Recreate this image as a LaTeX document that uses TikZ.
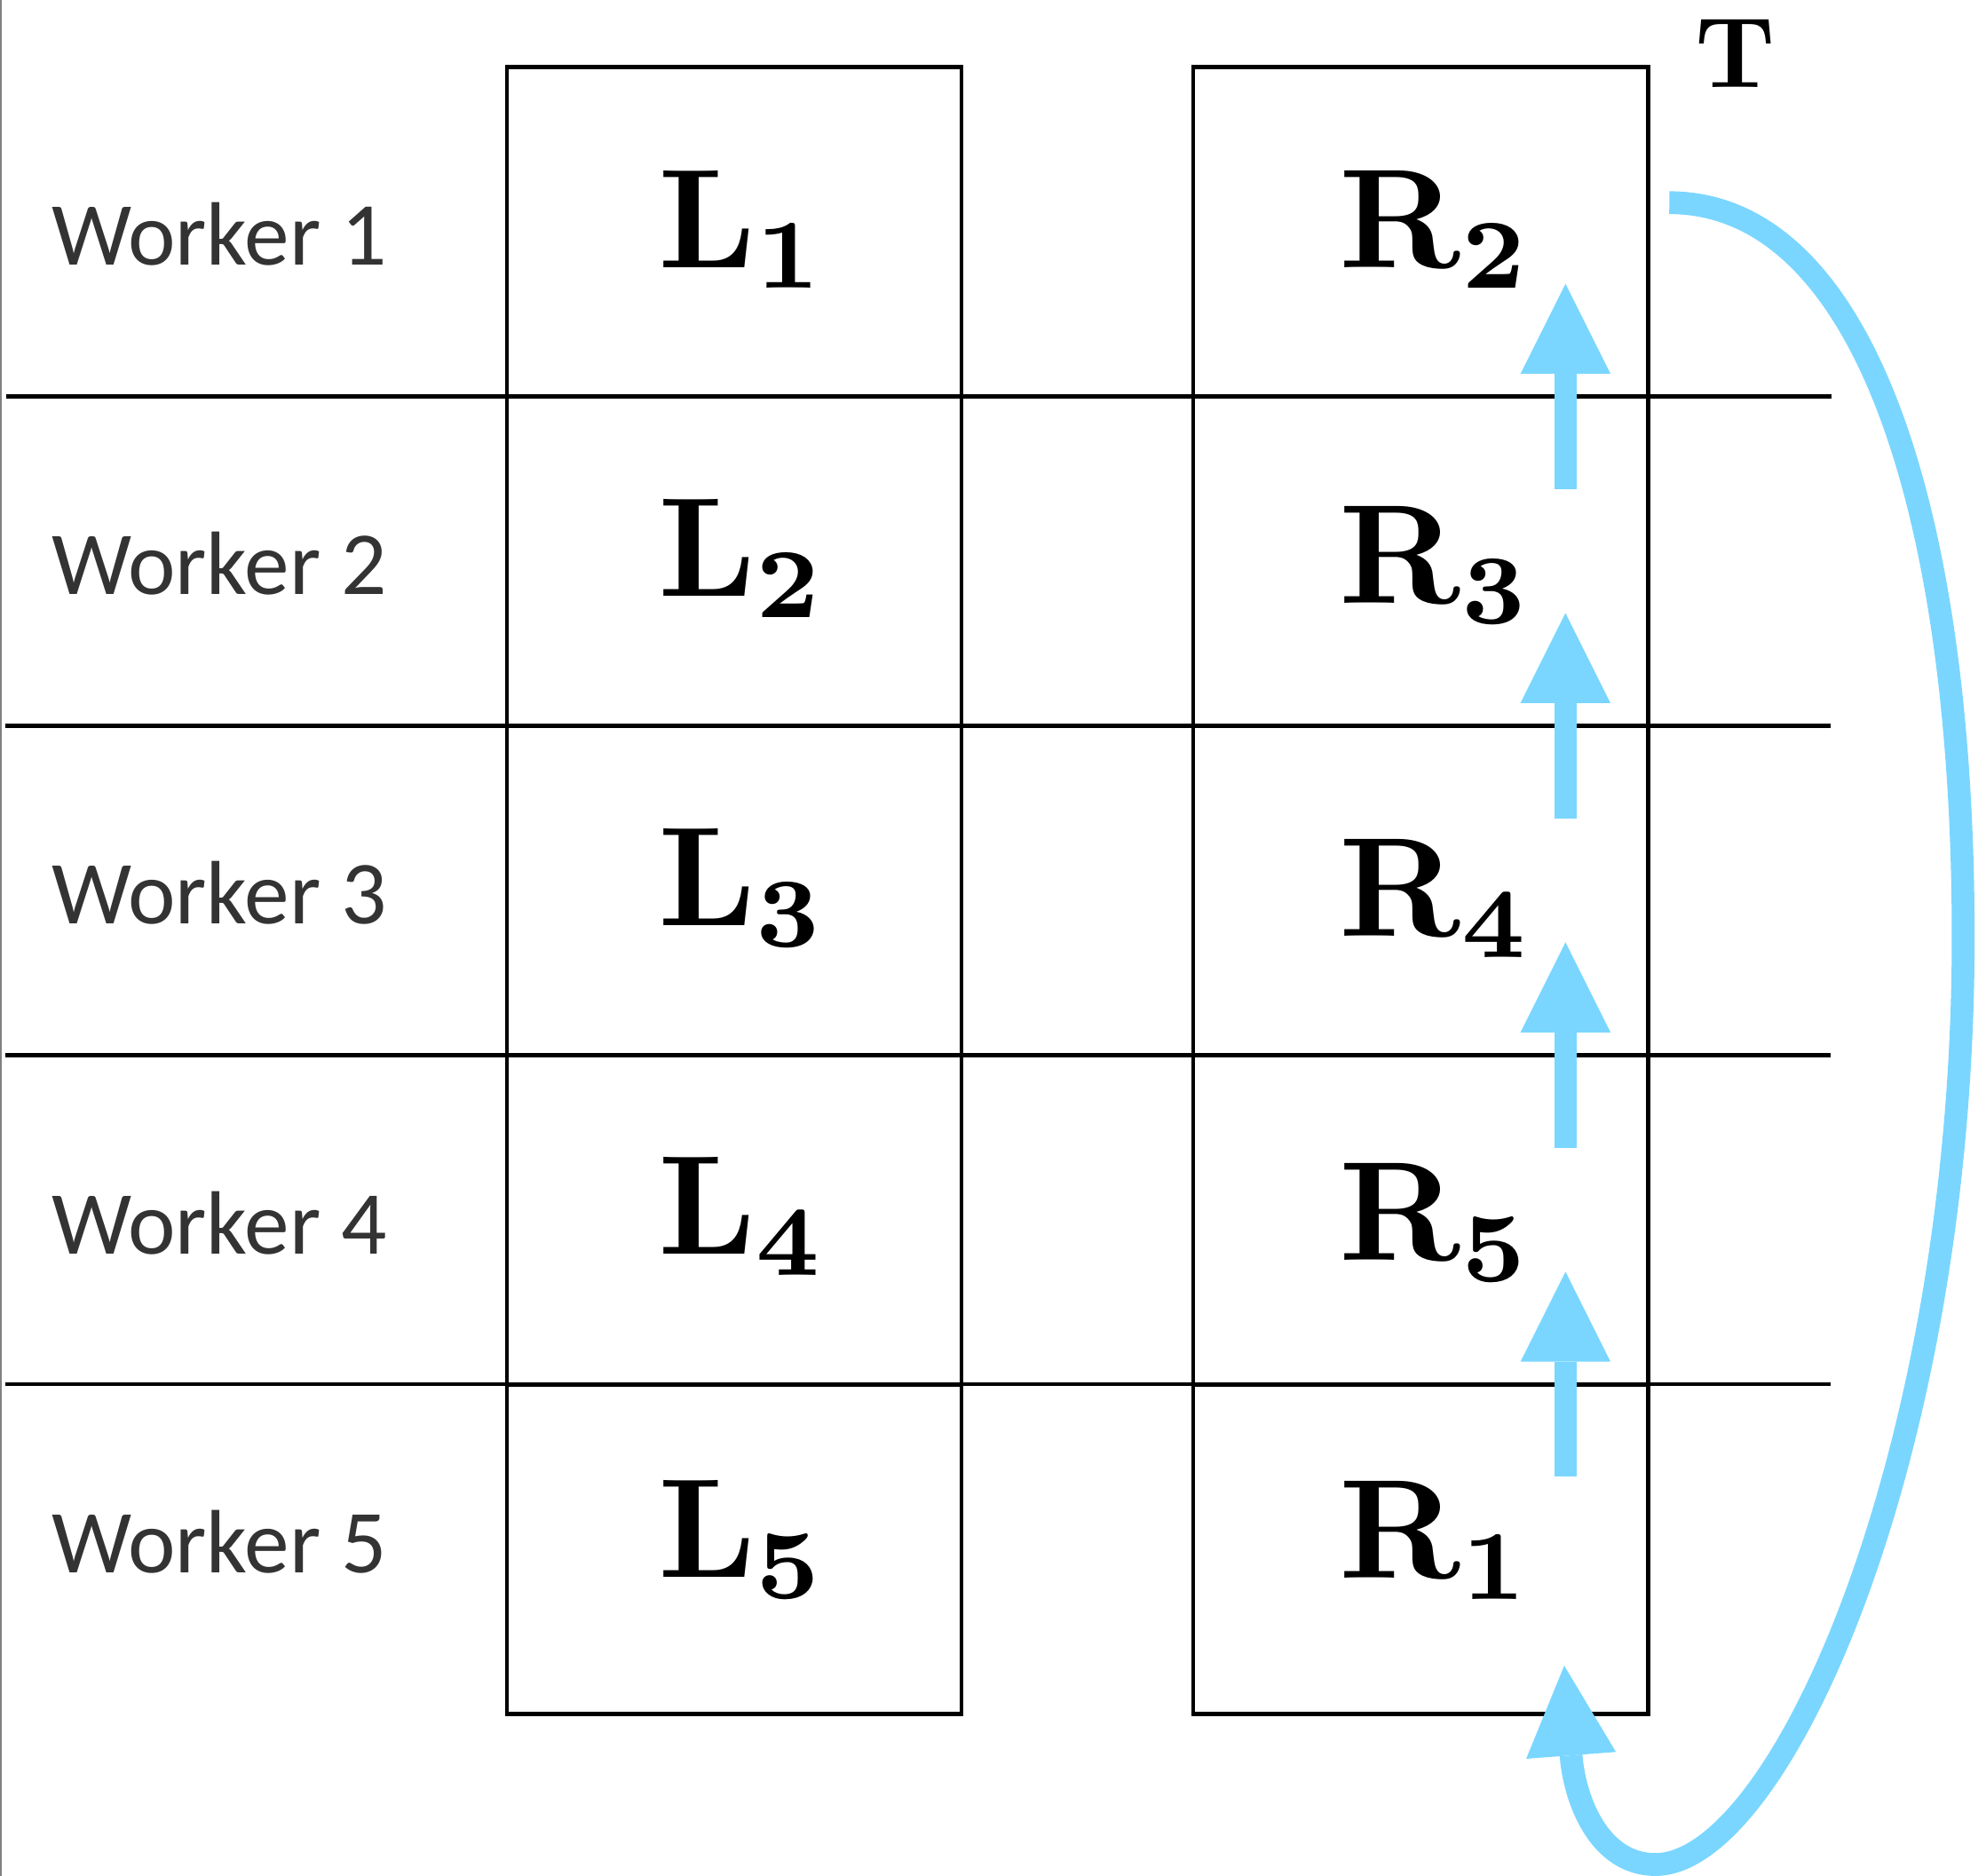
\documentclass[tikz,border=0pt]{standalone}
\usepackage{fontspec}
\newfontfamily\workerfont{Carlito}
\newfontfamily\bigbold[Extension=.otf]{lmroman10-bold}
\newfontfamily\smallbold[Extension=.otf]{lmroman7-bold}
\usetikzlibrary{arrows.meta}
\definecolor{flow}{RGB}{122,214,255}
\definecolor{wtext}{RGB}{51,51,51}
\newcommand\cellname[2]{{\bigbold #1}\raisebox{-0.15em}{\fontsize{22.2}{22}\smallbold #2}}
\begin{document}
\begin{tikzpicture}[x=0.01cm,y=-0.01cm,
  cell/.style={draw=black,line width=0.03cm,minimum width=3.59cm,minimum height=2.6cm,inner sep=0pt,outer sep=0pt,anchor=north west},
  rule/.style={draw=black,line width=0.03cm},
  worker/.style={font=\workerfont\fontsize{20.2}{21}\selectfont,text=wtext,inner sep=0pt,anchor=base west},
  cname/.style={font=\fontsize{31.7}{32}\selectfont,inner sep=0pt,anchor=base west},
  flowarrow/.style={draw=flow,line width=0.18cm,-{Triangle[length=0.71cm,width=0.71cm,line width=0pt]}}]
\useasboundingbox (0,0) rectangle (1568,1481);
\draw[gray,line width=0.4pt] (1,0) -- (1,1481);
% cells
\foreach \i/\y in {1/53,2/313,3/573,4/833,5/1093}{
  \node[cell] (Lcell\i) at (400,\y) {};
  \node[cell] (Rcell\i) at (942,\y) {};
}
% row separators
\draw[rule] (5,313) -- (1446,313);
\draw[rule] (4,573) -- (1445,573);
\draw[rule] (4,833) -- (1445,833);
\draw[rule] (4,1093) -- (1445,1093);
% worker labels
\node[worker] (w1) at (40,209) {Worker 1};
\node[worker] (w2) at (40,469) {Worker 2};
\node[worker] (w3) at (40,729) {Worker 3};
\node[worker] (w4) at (40,990) {Worker 4};
\node[worker] (w5) at (40,1242) {Worker 5};
% cell names
\node[cname] (L1) at (519,211) {\cellname{L}{1}};
\node[cname] (L2) at (519,471) {\cellname{L}{2}};
\node[cname] (L3) at (519,731) {\cellname{L}{3}};
\node[cname] (L4) at (519,990) {\cellname{L}{4}};
\node[cname] (L5) at (519,1245) {\cellname{L}{5}};
\node[cname] (R2) at (1057,211) {\cellname{R}{2}};
\node[cname] (R3) at (1057,476) {\cellname{R}{3}};
\node[cname] (R4) at (1057,739) {\cellname{R}{4}};
\node[cname] (R5) at (1057,995) {\cellname{R}{5}};
\node[cname] (R1) at (1057,1246) {\cellname{R}{1}};
\node[font=\fontsize{22.5}{22}\bigbold,inner sep=0pt,anchor=base west] (T) at (1338,69) {T};
% straight arrows
\coordinate (a1s) at (1236,386); \coordinate (a1e) at (1236,224);
\coordinate (a2s) at (1236,646); \coordinate (a2e) at (1236,484);
\coordinate (a3s) at (1236,906); \coordinate (a3e) at (1236,744);
\coordinate (a4s) at (1236,1166); \coordinate (a4e) at (1236,1004);
\draw[flowarrow] (a1s) -- (a1e);
\draw[flowarrow] (a2s) -- (a2e);
\draw[flowarrow] (a3s) -- (a3e);
\draw[flowarrow] (a4s) -- (a4e);
% wrap-around arrow
\coordinate (cs) at (1318,160);
\coordinate (cm) at (1550,740);
\coordinate (cb) at (1307,1472);
\coordinate (ct) at (1235,1315);
\draw[flowarrow] (cs) .. controls (1470,160) and (1550,400) .. (cm)
  .. controls (1550,1150) and (1405,1472) .. (cb)
  .. controls (1262,1472) and (1243,1420) .. (ct);
\end{tikzpicture}
\end{document}
